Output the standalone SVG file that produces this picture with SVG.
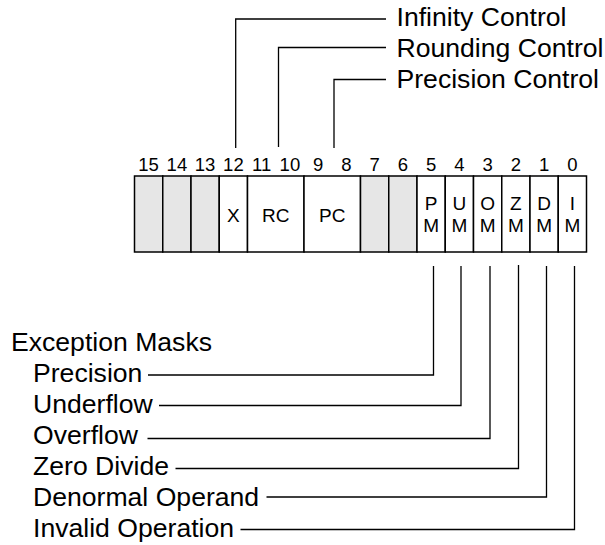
<svg xmlns="http://www.w3.org/2000/svg" width="605" height="545" viewBox="0 0 605 545">
<style>
text{font-family:"Liberation Sans",Arial,sans-serif;fill:#000}
.num{font-size:18.5px;text-anchor:middle}
.cell{font-size:19px;text-anchor:middle}
.lbl{font-size:26.6px}
.box{stroke:#000;stroke-width:1.5}
.res{fill:#e6e6e6}
.wh{fill:#fff}
.ln{fill:none;stroke:#000;stroke-width:1.3}
</style>
<rect width="605" height="545" fill="#fff"/>
<g id="bitnums">
<text class="num" x="148.6" y="171">15</text>
<text class="num" x="176.9" y="171">14</text>
<text class="num" x="205.1" y="171">13</text>
<text class="num" x="233.4" y="171">12</text>
<text class="num" x="261.6" y="171">11</text>
<text class="num" x="289.9" y="171">10</text>
<text class="num" x="318.1" y="171">9</text>
<text class="num" x="346.4" y="171">8</text>
<text class="num" x="374.6" y="171">7</text>
<text class="num" x="402.9" y="171">6</text>
<text class="num" x="431.1" y="171">5</text>
<text class="num" x="459.4" y="171">4</text>
<text class="num" x="487.6" y="171">3</text>
<text class="num" x="515.9" y="171">2</text>
<text class="num" x="544.1" y="171">1</text>
<text class="num" x="572.4" y="171">0</text>
</g>
<g id="register">
<rect class="box res" x="134.5" y="176" width="28.25" height="76"/>
<rect class="box res" x="162.75" y="176" width="28.25" height="76"/>
<rect class="box res" x="191" y="176" width="28.25" height="76"/>
<g id="bit-x"><rect class="box wh" x="219.25" y="176" width="28.25" height="76"/><text class="cell" x="233.4" y="222">X</text></g>
<g id="bit-rc"><rect class="box wh" x="247.5" y="176" width="56.5" height="76"/><text class="cell" x="275.75" y="222">RC</text></g>
<g id="bit-pc"><rect class="box wh" x="304" y="176" width="56.5" height="76"/><text class="cell" x="332.25" y="222">PC</text></g>
<rect class="box res" x="360.5" y="176" width="28.25" height="76"/>
<rect class="box res" x="388.75" y="176" width="28.25" height="76"/>
<g id="bit-pm"><rect class="box wh" x="417" y="176" width="28.25" height="76"/><text class="cell" x="431.1" y="210">P</text><text class="cell" x="431.1" y="232">M</text></g>
<g id="bit-um"><rect class="box wh" x="445.25" y="176" width="28.25" height="76"/><text class="cell" x="459.4" y="210">U</text><text class="cell" x="459.4" y="232">M</text></g>
<g id="bit-om"><rect class="box wh" x="473.5" y="176" width="28.25" height="76"/><text class="cell" x="487.6" y="210">O</text><text class="cell" x="487.6" y="232">M</text></g>
<g id="bit-zm"><rect class="box wh" x="501.75" y="176" width="28.25" height="76"/><text class="cell" x="515.9" y="210">Z</text><text class="cell" x="515.9" y="232">M</text></g>
<g id="bit-dm"><rect class="box wh" x="530" y="176" width="28.25" height="76"/><text class="cell" x="544.1" y="210">D</text><text class="cell" x="544.1" y="232">M</text></g>
<g id="bit-im"><rect class="box wh" x="558.25" y="176" width="28.25" height="76"/><text class="cell" x="572.4" y="210">I</text><text class="cell" x="572.4" y="232">M</text></g>
</g>
<g id="connectors">
<polyline class="ln" points="235.7,148 235.7,19 386,19"/>
<polyline class="ln" points="278.5,147 278.5,47.5 386,47.5"/>
<polyline class="ln" points="334,148 334,79.5 386,79.5"/>
<polyline class="ln" points="433.5,266 433.5,375 148,375"/>
<polyline class="ln" points="461,266 461,405.5 159,405.5"/>
<polyline class="ln" points="490,266 490,438.5 147.5,438.5"/>
<polyline class="ln" points="518.5,265 518.5,468.5 175.5,468.5"/>
<polyline class="ln" points="546.5,266 546.5,497 266.5,497"/>
<polyline class="ln" points="574.5,266 574.5,529.5 240.5,529.5"/>
</g>
<g id="top-labels">
<text class="lbl" x="396.5" y="26">Infinity Control</text>
<text class="lbl" x="396.5" y="57">Rounding Control</text>
<text class="lbl" x="396.5" y="88">Precision Control</text>
</g>
<g id="bottom-labels">
<text class="lbl" x="11" y="351">Exception Masks</text>
<text class="lbl" x="33" y="382">Precision</text>
<text class="lbl" x="33" y="413">Underflow</text>
<text class="lbl" x="33" y="444">Overflow</text>
<text class="lbl" x="33" y="475">Zero Divide</text>
<text class="lbl" x="33" y="506">Denormal Operand</text>
<text class="lbl" x="33" y="537">Invalid Operation</text>
</g>
</svg>
